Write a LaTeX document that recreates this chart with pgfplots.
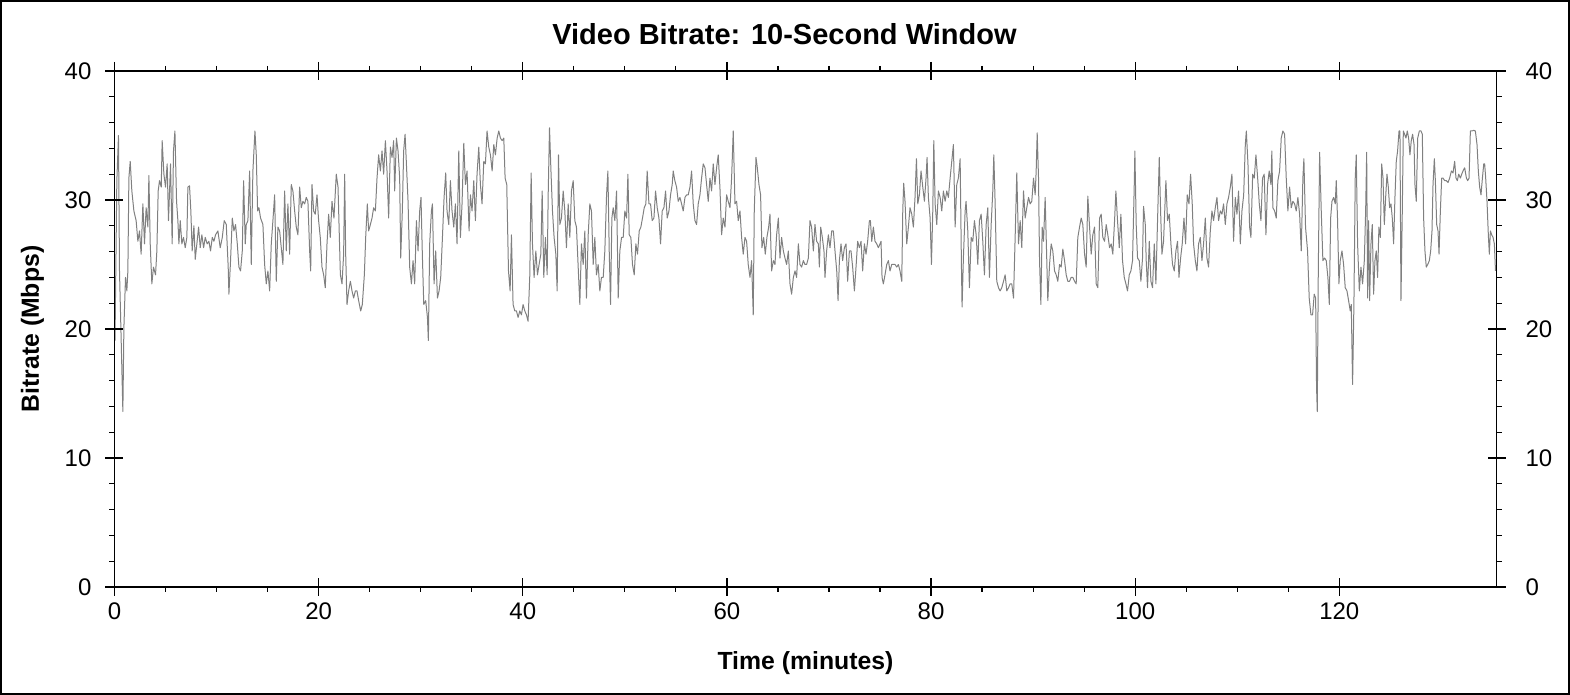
\documentclass[border=0pt]{standalone}
\usepackage{pgfplots}
\pgfplotsset{compat=1.18}
\usepackage{pgfplotstable}
\usepackage{fontspec}
\setmainfont{Liberation Sans}

\pgfplotstableread{
t v
0.05 19.1
0.23 31.5
0.39 35.0
0.49 24.5
0.65 19.3
0.82 13.6
0.92 20.1
1.08 24.0
1.21 22.95
1.31 24.5
1.41 31.7
1.54 33.0
1.70 30.7
1.90 29.15
2.12 28.4
2.29 26.8
2.45 27.6
2.61 25.8
2.78 29.7
2.94 26.6
3.10 29.4
3.27 27.9
3.37 31.9
3.50 26.6
3.66 23.5
3.82 24.8
4.02 24.2
4.15 26.05
4.28 30.7
4.41 31.5
4.58 31.0
4.67 34.6
4.84 32.0
5.00 31.0
5.16 32.8
5.29 28.4
5.49 32.8
5.65 26.6
5.78 33.8
5.92 35.35
6.08 29.9
6.21 28.4
6.31 26.6
6.44 28.4
6.60 26.6
6.76 27.1
6.93 26.3
7.09 27.1
7.19 31.0
7.35 31.1
7.48 29.15
7.61 26.05
7.78 28.0
7.91 25.4
8.07 26.6
8.24 27.9
8.40 26.3
8.56 27.3
8.73 26.3
8.89 27.1
9.08 26.6
9.25 26.8
9.41 26.05
9.58 27.1
9.74 26.8
9.90 27.3
10.13 27.6
10.36 26.3
10.56 27.1
10.75 28.4
10.95 28.1
11.14 24.8
11.21 22.7
11.37 25.3
11.54 28.6
11.70 27.6
11.86 28.1
12.03 26.6
12.19 24.8
12.35 24.5
12.52 26.05
12.65 31.5
12.81 26.6
12.91 28.1
13.07 28.4
13.24 32.25
13.40 25.0
13.56 32.25
13.76 35.35
13.89 33.5
14.02 29.15
14.15 29.4
14.31 28.6
14.54 28.1
14.71 25.0
14.87 23.5
15.03 24.5
15.20 22.95
15.36 26.6
15.52 28.4
15.69 30.4
15.85 23.7
16.01 27.9
16.18 27.6
16.34 26.3
16.50 25.0
16.67 30.7
16.83 26.05
16.99 29.7
17.16 25.8
17.32 31.2
17.48 30.7
17.65 29.15
17.81 27.9
17.97 27.3
18.14 31.0
18.30 29.4
18.46 29.9
18.63 29.7
18.79 30.2
18.95 29.9
19.12 26.05
19.22 24.5
19.35 31.2
19.51 29.15
19.67 28.9
19.84 30.4
20.00 28.4
20.16 27.1
20.33 24.8
20.49 24.2
20.65 23.2
20.82 26.6
20.98 28.9
21.14 27.1
21.31 29.9
21.50 28.6
21.73 32.0
21.90 31.0
22.13 24.2
22.29 23.5
22.45 25.8
22.55 32.0
22.65 25.8
22.78 21.9
22.94 22.95
23.11 23.7
23.27 22.95
23.43 22.4
23.60 22.95
23.76 22.95
23.92 22.2
24.12 21.4
24.28 21.9
24.48 24.2
24.61 27.1
24.77 29.7
24.90 27.6
25.07 28.1
25.23 28.6
25.39 29.4
25.56 29.15
25.72 31.7
25.88 33.5
26.05 32.25
26.21 33.8
26.37 32.0
26.54 34.6
26.70 32.25
26.86 28.6
27.03 34.1
27.19 33.3
27.35 34.6
27.45 30.7
27.62 34.8
27.78 33.8
27.94 31.7
28.04 25.5
28.20 29.15
28.33 33.8
28.47 35.1
28.60 32.8
28.76 29.9
28.92 24.8
29.09 23.5
29.25 25.3
29.41 23.5
29.58 28.4
29.74 26.05
29.90 29.15
30.03 30.2
30.16 25.8
30.30 21.9
30.49 22.2
30.66 20.9
30.75 19.1
30.88 26.6
31.05 29.15
31.15 29.7
31.31 23.5
31.47 26.05
31.64 22.4
31.80 22.95
31.96 24.0
32.13 27.1
32.29 30.2
32.45 32.1
32.58 29.15
32.75 28.1
32.91 31.5
33.07 29.15
33.24 27.9
33.40 29.7
33.56 26.6
33.73 33.8
33.89 27.1
34.05 29.7
34.22 34.4
34.38 31.2
34.54 32.25
34.74 27.6
34.87 30.4
35.03 29.15
35.20 31.5
35.36 28.4
35.52 32.0
35.69 34.1
35.85 31.2
36.01 29.7
36.18 33.0
36.34 32.8
36.50 35.35
36.67 34.1
36.83 33.5
37.00 32.25
37.16 34.3
37.32 33.5
37.49 34.8
37.65 35.35
37.81 34.8
37.98 34.6
38.14 34.8
38.27 31.7
38.43 31.2
38.60 24.5
38.76 22.95
38.89 27.3
39.05 21.9
39.22 21.4
39.38 21.4
39.54 20.9
39.71 21.4
39.87 21.1
40.03 21.9
40.20 21.4
40.36 21.1
40.52 20.6
40.69 24.2
40.82 32.1
40.95 26.6
41.11 24.0
41.28 26.05
41.44 24.2
41.60 25.0
41.77 25.8
41.90 30.7
42.06 24.0
42.22 27.1
42.39 24.2
42.49 30.4
42.62 35.6
42.75 32.5
42.91 29.15
43.07 27.1
43.24 25.8
43.37 22.95
43.50 33.5
43.63 28.1
43.79 28.6
43.96 30.7
44.12 29.15
44.28 26.3
44.45 29.7
44.61 27.1
44.77 30.7
44.94 31.5
45.10 28.4
45.26 27.9
45.43 24.8
45.59 21.9
45.75 26.6
45.92 25.0
46.08 27.6
46.24 22.4
46.41 27.3
46.57 29.7
46.73 29.15
46.90 25.0
47.06 27.1
47.22 24.2
47.39 25.0
47.55 22.95
47.71 24.0
47.88 24.0
48.04 26.05
48.21 30.4
48.34 32.25
48.47 26.05
48.60 21.9
48.73 28.6
48.86 29.4
49.02 28.4
49.19 30.7
49.35 22.4
49.51 26.05
49.68 27.1
49.84 27.1
50.00 29.15
50.17 28.6
50.30 32.0
50.43 27.3
50.59 27.1
50.75 25.0
50.92 24.2
51.08 26.6
51.24 25.8
51.41 27.6
51.57 27.9
51.73 28.6
51.90 29.4
52.06 29.7
52.19 32.25
52.36 29.7
52.52 29.7
52.68 28.4
52.85 28.6
53.01 30.7
53.17 29.4
53.34 28.6
53.50 26.6
53.66 29.15
53.83 29.4
53.99 30.7
54.15 28.6
54.32 29.15
54.48 30.4
54.64 31.2
54.74 32.25
54.90 31.5
55.07 31.0
55.23 29.9
55.40 30.2
55.56 29.7
55.72 29.15
55.89 30.2
56.05 30.4
56.21 30.4
56.38 31.0
56.54 32.25
56.70 29.7
56.87 28.4
57.03 28.1
57.19 29.7
57.36 30.4
57.52 31.7
57.68 32.8
57.85 32.5
58.01 31.2
58.17 29.9
58.34 31.7
58.50 30.7
58.66 32.8
58.83 31.2
58.99 32.5
59.15 33.5
59.32 30.9
59.48 27.3
59.64 28.6
59.81 27.9
59.97 30.4
60.13 29.9
60.30 29.4
60.46 31.7
60.62 35.35
60.79 29.7
60.95 29.9
61.11 28.4
61.28 29.15
61.44 27.1
61.60 25.8
61.77 27.1
61.93 26.8
62.09 25.0
62.26 24.0
62.42 25.3
62.58 21.1
62.68 29.15
62.85 33.3
62.98 32.5
63.14 31.2
63.30 30.4
63.43 26.3
63.60 27.1
63.76 25.8
63.92 27.1
64.09 27.9
64.22 28.9
64.38 24.5
64.55 25.3
64.71 25.0
64.87 27.3
65.04 28.6
65.20 25.5
65.36 27.1
65.53 26.05
65.69 25.5
65.85 25.0
66.02 26.05
66.18 23.5
66.34 22.7
66.51 24.0
66.67 24.5
66.83 24.0
67.00 26.6
67.16 25.0
67.32 24.8
67.49 25.3
67.65 25.0
67.81 25.0
67.98 25.5
68.14 28.4
68.30 27.9
68.47 26.05
68.63 28.1
68.79 26.8
68.96 26.6
69.06 24.8
69.19 27.9
69.35 27.1
69.51 26.05
69.61 24.0
69.77 26.05
69.94 27.3
70.10 26.3
70.27 27.6
70.43 27.6
70.59 26.05
70.76 24.5
70.89 22.2
71.02 25.3
71.18 26.6
71.34 25.3
71.51 26.3
71.67 26.6
71.83 23.7
72.00 26.05
72.16 26.05
72.32 24.8
72.49 22.95
72.65 24.8
72.81 26.8
72.98 26.3
73.14 26.8
73.30 24.5
73.47 26.6
73.63 25.8
73.79 26.8
73.96 28.4
74.06 28.4
74.19 26.8
74.35 27.9
74.51 26.8
74.68 26.6
74.84 26.3
75.00 26.6
75.10 26.8
75.20 24.0
75.33 23.5
75.49 24.2
75.66 25.0
75.82 25.3
75.98 24.5
76.15 25.0
76.31 25.0
76.47 25.0
76.64 24.8
76.80 25.0
76.96 24.5
77.13 23.7
77.23 29.15
77.32 31.3
77.45 29.9
77.62 26.6
77.78 27.9
77.94 29.4
78.11 28.9
78.27 27.9
78.43 30.2
78.57 33.2
78.70 29.7
78.86 30.4
79.02 32.25
79.19 31.0
79.35 29.9
79.51 31.7
79.61 33.3
79.74 30.2
79.91 28.6
80.04 25.0
80.17 29.15
80.27 34.6
80.40 29.7
80.56 28.1
80.72 30.7
80.89 30.2
81.05 29.15
81.21 30.7
81.38 29.9
81.54 30.7
81.70 30.2
81.87 31.7
82.03 33.0
82.19 34.3
82.36 27.9
82.52 31.2
82.68 31.7
82.85 33.2
82.98 24.8
83.04 21.7
83.17 25.5
83.34 29.15
83.43 29.9
83.60 27.6
83.76 23.2
83.93 27.1
84.09 26.8
84.25 28.4
84.42 27.3
84.58 25.0
84.74 28.4
84.91 28.9
85.07 26.8
85.23 24.2
85.40 28.1
85.56 29.4
85.72 24.0
85.89 28.1
86.05 30.7
86.15 33.5
86.28 29.7
86.44 23.7
86.61 23.2
86.77 22.95
86.93 23.2
87.10 23.7
87.26 24.2
87.42 22.95
87.59 23.2
87.75 23.5
87.91 23.5
88.08 22.4
88.24 27.1
88.40 32.1
88.57 26.6
88.73 28.4
88.89 26.3
89.06 30.7
89.22 28.6
89.38 29.4
89.55 30.2
89.71 29.7
89.87 29.9
90.04 31.7
90.20 30.4
90.30 32.25
90.40 35.2
90.53 31.7
90.63 25.3
90.76 21.9
90.89 27.9
91.02 26.8
91.18 30.2
91.34 25.3
91.44 22.2
91.61 25.0
91.77 26.6
91.93 26.05
92.10 24.5
92.26 24.2
92.42 23.7
92.59 25.0
92.75 24.8
92.91 26.2
93.08 25.3
93.24 24.2
93.40 23.7
93.57 23.7
93.73 24.0
93.89 24.0
94.06 23.7
94.22 23.5
94.38 27.1
94.55 27.9
94.71 28.6
94.87 28.1
95.04 25.8
95.20 24.8
95.36 30.3
95.53 27.9
95.69 25.8
95.85 27.3
96.02 27.9
96.18 23.5
96.34 23.2
96.51 28.6
96.67 28.9
96.83 27.1
97.00 26.8
97.16 28.1
97.32 27.3
97.49 26.3
97.65 26.6
97.81 25.8
97.98 28.4
98.11 30.7
98.27 28.4
98.44 26.3
98.60 28.9
98.76 25.3
98.93 24.0
99.09 23.5
99.25 22.95
99.42 24.2
99.58 24.5
99.74 25.3
99.91 31.2
99.97 33.8
100.10 28.1
100.23 25.5
100.40 25.3
100.56 23.7
100.72 25.5
100.82 29.5
100.99 28.1
101.08 25.3
101.21 23.2
101.38 26.8
101.54 23.7
101.70 23.2
101.87 26.6
102.03 23.5
102.13 26.6
102.26 30.4
102.36 33.3
102.49 29.15
102.62 25.8
102.78 26.8
103.01 31.5
103.17 28.4
103.34 28.9
103.50 26.6
103.66 25.0
103.83 24.5
103.99 26.05
104.15 26.8
104.29 24.0
104.45 25.5
104.61 26.6
104.78 28.6
104.94 26.6
105.10 30.4
105.27 29.7
105.43 32.0
105.59 29.7
105.72 26.6
105.89 25.3
106.05 24.5
106.21 26.6
106.38 27.1
106.54 25.3
106.70 26.6
106.87 28.6
107.03 25.5
107.19 24.8
107.36 27.6
107.52 29.15
107.68 28.4
107.85 29.4
108.01 30.2
108.17 28.4
108.34 29.15
108.50 28.9
108.66 29.7
108.83 28.1
108.99 29.7
109.15 30.2
109.32 31.0
109.48 32.0
109.64 26.8
109.81 30.2
109.97 28.9
110.13 30.7
110.30 26.6
110.46 29.15
110.63 30.4
110.79 34.3
110.89 35.35
111.05 32.8
111.21 27.9
111.34 27.1
111.51 32.0
111.67 31.7
111.83 33.5
112.00 31.7
112.16 29.7
112.32 28.4
112.48 31.7
112.64 32.0
112.81 27.3
112.97 31.2
113.13 32.25
113.30 31.2
113.39 33.8
113.49 29.4
113.66 29.15
113.82 28.6
113.98 31.5
114.15 32.25
114.31 34.8
114.47 35.35
114.64 35.1
114.80 31.7
114.96 29.15
115.13 31.0
115.29 29.4
115.45 29.9
115.62 29.7
115.78 29.15
115.94 30.2
116.11 28.9
116.27 26.05
116.43 31.7
116.53 33.2
116.69 27.9
116.89 26.05
117.05 22.4
117.22 21.1
117.38 21.1
117.54 22.7
117.68 22.4
117.77 15.5
117.84 13.6
117.94 24.5
118.07 33.7
118.23 29.15
118.39 25.3
118.56 25.5
118.72 25.3
118.88 24.0
119.02 21.9
119.15 28.6
119.28 29.9
119.44 30.2
119.60 29.7
119.70 31.5
119.83 28.4
119.96 23.5
120.09 25.3
120.26 26.05
120.42 25.0
120.58 23.2
120.75 22.95
120.91 22.2
121.07 21.4
121.17 21.9
121.30 15.7
121.43 21.9
121.56 31.7
121.66 33.5
121.79 26.6
121.96 22.95
122.12 24.8
122.28 23.5
122.45 25.3
122.58 29.15
122.68 33.7
122.77 22.4
122.87 28.4
122.97 22.2
123.10 26.6
123.23 28.1
123.36 22.7
123.49 25.3
123.62 26.05
123.75 24.0
123.88 27.9
124.02 27.1
124.15 32.8
124.28 31.7
124.41 28.1
124.54 30.2
124.67 32.0
124.80 31.0
124.93 29.4
125.06 29.7
125.19 28.6
125.32 26.6
125.45 30.2
125.58 33.0
125.71 33.8
125.85 35.35
125.94 35.35
126.04 22.2
126.17 29.15
126.27 35.35
126.40 35.1
126.53 34.8
126.66 35.35
126.79 34.8
126.92 33.5
127.05 34.6
127.18 35.1
127.32 34.3
127.41 31.2
127.54 29.9
127.68 34.8
127.84 35.35
128.00 35.35
128.13 35.1
128.26 28.6
128.39 26.05
128.52 24.8
128.66 25.0
128.82 25.3
128.95 26.05
129.08 27.6
129.18 31.2
129.31 33.2
129.41 31.5
129.54 28.1
129.67 27.6
129.77 25.8
129.90 29.15
130.03 31.7
130.16 31.7
130.32 31.5
130.49 31.5
130.65 31.35
130.81 31.7
130.98 32.25
131.14 32.1
131.30 33.0
131.43 31.7
131.56 31.5
131.70 32.0
131.86 31.7
131.99 32.0
132.12 32.25
132.28 32.5
132.45 31.7
132.58 31.5
132.71 31.7
132.84 35.35
133.00 35.35
133.17 35.4
133.33 35.35
133.49 34.3
133.62 32.25
133.75 31.0
133.88 30.4
134.02 31.7
134.15 32.8
134.24 32.8
134.34 31.7
134.47 29.9
134.60 27.3
134.70 25.8
134.80 27.6
134.93 27.3
135.06 27.1
135.19 26.6
135.30 24.5
}\bitrate

\begin{document}
\begin{tikzpicture}
\path[use as bounding box] (-57.25pt,-54pt) rectangle (727.75pt,293.5pt);
\begin{axis}[
  name=main,
  at={(0pt,0pt)}, anchor=south west,
  scale only axis, width=691pt, height=258pt,
  xmin=0, xmax=135.4, ymin=0, ymax=40,
  xtick={0,20,...,120}, ytick={0,10,...,40},
  minor x tick num=3, minor y tick num=4,
  tick align=outside, tick pos=both,
  major tick length=4.5pt, minor tick length=2.5pt,
  yticklabel pos=left, xticklabel pos=bottom,
  axis line style={line width=0.6pt},
  every tick/.style={black, line width=0.6pt},
  tick label style={font=\fontsize{12}{14}\selectfont},
  yticklabel style={xshift=-3.5pt},
  /pgf/number format/assume math mode=true,
  title={\bfseries Video Bitrate: 10-Second Window},
  title style={font=\fontsize{14.5}{17}\selectfont, at={(axis description cs:0.4848,1.0484)}, anchor=center},
  xlabel={\bfseries Time (minutes)},
  ylabel={\bfseries Bitrate (Mbps)},
  label style={font=\fontsize{12.4}{14}\selectfont},
  xlabel style={at={(axis description cs:0.5,-0.1473)}, anchor=center},
  ylabel style={at={(axis description cs:-0.0593,0.5)}, anchor=center},
]
\addplot[color=gray, line width=0.5pt, line join=round] table[x=t,y=v] {\bitrate};
\end{axis}
\begin{axis}[
  at={(0pt,0pt)}, anchor=south west,
  scale only axis, width=691pt, height=258pt,
  xmin=0, xmax=135.4, ymin=0, ymax=40,
  xtick={0,20,...,120}, ytick={0,10,...,40},
  minor x tick num=0, minor y tick num=0,
  tick align=inside, tick pos=both,
  major tick length=4.5pt,
  xticklabels={}, yticklabel pos=right,
  axis line style={line width=0.6pt},
  every tick/.style={black, line width=0.6pt},
  tick label style={font=\fontsize{12}{14}\selectfont},
  /pgf/number format/assume math mode=true,
  yticklabel style={xshift=11pt},
]
\end{axis}
\draw[line width=0.8pt] (-56.85pt,-53.6pt) rectangle (727.35pt,293.1pt);
\end{tikzpicture}
\end{document}
